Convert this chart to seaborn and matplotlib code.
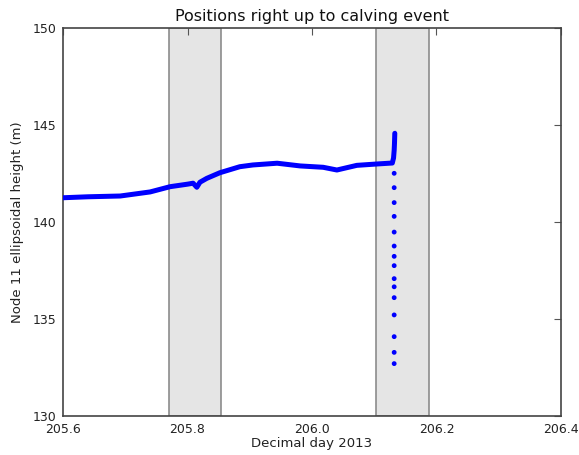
import matplotlib
matplotlib.use("Agg")
import matplotlib.pyplot as plt
import seaborn as sns
import pandas as pd
import numpy as np

# Track of node 11 ellipsoidal height
track_day = [205.600, 205.640, 205.692, 205.740, 205.772, 205.800, 205.809, 205.815,
             205.820, 205.831, 205.852, 205.884, 205.905, 205.944, 205.981,
             206.018, 206.040, 206.072, 206.104, 206.129, 206.131, 206.132,
             206.1325, 206.133, 206.133]
track_height = [141.25, 141.30, 141.34, 141.55, 141.82, 141.95, 142.00, 141.79,
                142.05, 142.25, 142.54, 142.85, 142.94, 143.03, 142.89,
                142.82, 142.68, 142.92, 142.99, 143.04, 143.30, 143.70,
                144.05, 144.40, 144.74]

# Falling positions at calving
drop_day = [206.132] * 15
drop_height = [142.51, 141.77, 141.00, 140.29, 139.48, 138.76, 138.23, 137.75,
               137.08, 136.66, 136.10, 135.21, 134.09, 133.28, 132.70]

spans = [(205.770, 205.854), (206.103, 206.1875)]
xticks = [205.6, 205.8, 206.0, 206.2, 206.4]
yticks = [130, 135, 140, 145, 150]

sns.set_style("white")
plt.rcParams['font.family'] = ['DejaVu Sans']

fig = plt.figure(figsize=(5.79, 4.55), dpi=100)
ax = fig.add_axes([63/579, 39/455, 498/579, 388/455])

for a, b in spans:
    ax.axvspan(a, b, facecolor="#e5e5e5", edgecolor="#8c8c8c", linewidth=1.2, zorder=0)

df_track = pd.DataFrame({"day": track_day, "h": track_height})
df_drop = pd.DataFrame({"day": drop_day, "h": drop_height})
sns.lineplot(data=df_track, x="day", y="h", color="#0000ff", linewidth=3.6,
             sort=False, ax=ax, zorder=3)
sns.scatterplot(data=df_drop, x="day", y="h", color="#0000ff", s=12,
                edgecolor="none", ax=ax, zorder=3)

ax.set_xlim(205.6, 206.4)
ax.set_ylim(130, 150)
ax.set_xticks(xticks)
ax.set_xticklabels([f"{t:.1f}" for t in xticks])
ax.set_yticks(yticks)
ax.tick_params(direction="in", top=True, right=True, length=5, width=0.8,
               labelsize=9, color="#555555", labelcolor="#222222", pad=5)
for s in ax.spines.values():
    s.set_color("#444444")
    s.set_linewidth(1.2)
ax.set_xlabel("Decimal day 2013", fontsize=9.5, labelpad=1, color="#222222")
ax.set_ylabel("Node 11 ellipsoidal height (m)", fontsize=9.5, labelpad=6, color="#222222")
ax.set_title("Positions right up to calving event", fontsize=11.5, pad=5, color="#111111")

fig.savefig("out.png", dpi=100)
